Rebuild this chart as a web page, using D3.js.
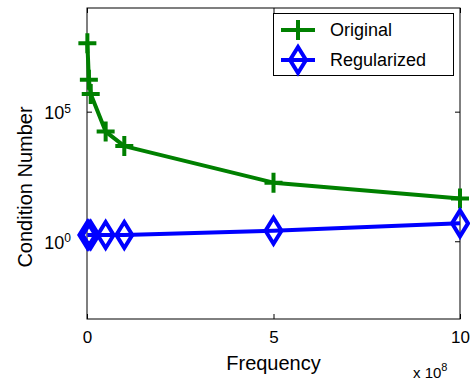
<!DOCTYPE html>
<html>
<head>
<meta charset="utf-8">
<script src="https://cdn.jsdelivr.net/npm/d3@7"></script>
<style>
  body { margin: 0; background: #fff; }
  svg { font-family: "Liberation Sans", Arial, sans-serif; }
</style>
</head>
<body>
<svg width="470" height="381"></svg>
<script>
// frequency samples (Hz) shared by both curves
const freqs = [1e6, 5e6, 1e7, 5e7, 1e8, 5e8, 1e9]
const original = [4.4e7, 1.7e6, 4.8e5, 1.7e4, 4.7e3, 182, 45]
const regularized = [1.75, 1.75, 1.75, 1.75, 1.75, 2.55, 4.9]
const seriesNames = ['Original', 'Regularized']
const xTicks = [0, 5e8, 10e8]
const yTicks = [1, 1e5]

// note: "top" clashes with window.top, so the box edges get their own names
const svg = d3.select("svg"),
    boxL = 87, boxR = 460, boxT = 8, boxB = 319

const x = d3.scaleLinear().domain([0, 10e8]).range([boxL, boxR])
const y = d3.scaleLog().domain([1e-3, 1e9]).range([boxB, boxT])

// box
svg.append("rect")
    .attr("x", boxL).attr("y", boxT)
    .attr("width", boxR - boxL).attr("height", boxB - boxT)
    .attr("fill", "none").attr("stroke", "#000").attr("stroke-width", 1)

// x axis (ticks point inwards, matlab style)
svg.append("g")
    .attr("transform", "translate(0," + boxB + ")")
    .call(d3.axisBottom(x).tickValues(xTicks).tickSize(-5).tickPadding(12)
        .tickFormat(d => d / 1e8))
svg.append("g")
    .attr("transform", "translate(0," + boxT + ")")
    .call(d3.axisTop(x).tickValues(xTicks).tickSize(-5).tickFormat(""))

// y axis, labels like 10^5
const yAxis = svg.append("g")
    .attr("transform", "translate(" + boxL + ",0)")
    .call(d3.axisLeft(y).tickValues(yTicks).tickSize(-5).tickPadding(16)
        .tickFormat(""))
yAxis.selectAll(".tick text").each(function (d) {
    const t = d3.select(this)
    t.append("tspan").text("10")
    t.append("tspan").attr("dy", "-0.55em").attr("font-size", 12)
        .text(Math.round(Math.log10(d)))
})
svg.append("g")
    .attr("transform", "translate(" + boxR + ",0)")
    .call(d3.axisRight(y).tickValues(yTicks).tickSize(-5).tickFormat(""))

svg.selectAll(".domain").remove()
svg.selectAll(".tick line").attr("stroke", "#000")
svg.selectAll(".tick text").attr("font-size", 17).attr("fill", "#000")
    .attr("font-family", "Liberation Sans, Arial, sans-serif")
yAxis.selectAll(".tick text").attr("font-size", 18).attr("dy", "0.4em")

// axis titles
svg.append("text")
    .attr("x", (boxL + boxR) / 2).attr("y", 370)
    .attr("text-anchor", "middle").attr("font-size", 20)
    .text("Frequency")
svg.append("text")
    .attr("transform", "translate(32,187) rotate(-90)")
    .attr("text-anchor", "middle").attr("font-size", 20)
    .text("Condition Number")
const mult = svg.append("text")
    .attr("x", 413).attr("y", 378).attr("font-size", 15)
mult.append("tspan").text("x 10")
mult.append("tspan").attr("dy", -7).attr("font-size", 11).text("8")

// markers
const plus = (g, cx, cy, c) => g.append("path")
    .attr("d", "M" + (cx - 9) + "," + cy + "H" + (cx + 9) + "M" + cx + "," + (cy - 10) + "V" + (cy + 10))
    .attr("stroke", c).attr("stroke-width", 4).attr("fill", "none")
const diamond = (g, cx, cy, c) => g.append("path")
    .attr("d", "M" + cx + "," + (cy - 13) + "L" + (cx + 8) + "," + cy + "L" + cx + "," + (cy + 13) + "L" + (cx - 8) + "," + cy + "Z")
    .attr("stroke", c).attr("stroke-width", 4).attr("fill", "none")

const line = d3.line().x(d => x(d[0])).y(d => y(d[1]))
const series = [
    {name: seriesNames[0], values: original, colour: '#008000', marker: plus},
    {name: seriesNames[1], values: regularized, colour: '#0000ff', marker: diamond}
]

series.forEach(s => {
    const pts = freqs.map((f, i) => [f, s.values[i]])
    const g = svg.append("g")
    g.append("path")
        .attr("d", line(pts))
        .attr("fill", "none").attr("stroke", s.colour).attr("stroke-width", 4)
        .attr("stroke-linejoin", "round")
    pts.forEach(p => s.marker(g, x(p[0]), y(p[1]), s.colour))
})

// legend
const legend = svg.append("g")
legend.append("rect")
    .attr("x", 273.5).attr("y", 13.5).attr("width", 180).attr("height", 62)
    .attr("fill", "#fff").attr("stroke", "#000").attr("stroke-width", 1)
series.forEach((s, i) => {
    const ly = 30 + i * 30
    legend.append("line")
        .attr("x1", 281).attr("x2", 315).attr("y1", ly).attr("y2", ly)
        .attr("stroke", s.colour).attr("stroke-width", 4)
    s.marker(legend, 298, ly, s.colour)
    legend.append("text")
        .attr("x", 330).attr("y", ly).attr("dy", "0.35em")
        .attr("font-size", 18)
        .text(s.name)
})
</script>
</body>
</html>
